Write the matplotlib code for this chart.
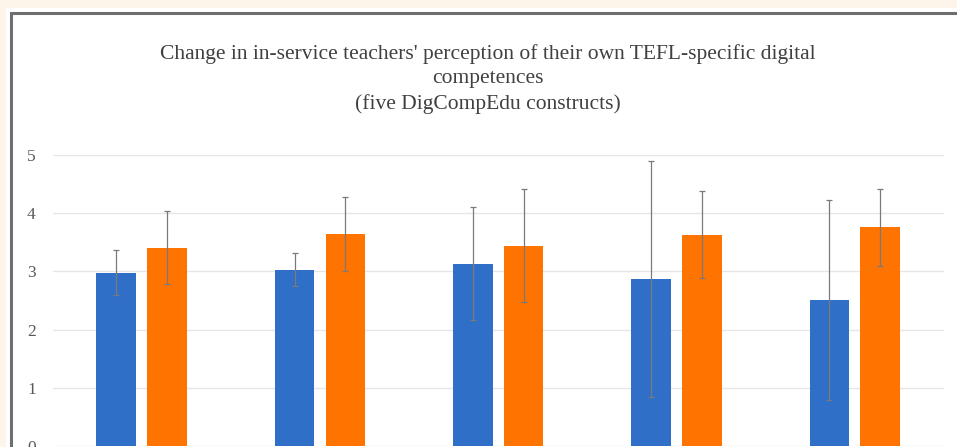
import matplotlib.pyplot as plt
from matplotlib.patches import Rectangle
import numpy as np

# five DigCompEdu constructs (axis labels are cropped out of the picture)
constructs = ["C1", "C2", "C3", "C4", "C5"]

# mean self-rating before / after, with standard deviations
pre_means = [2.98, 3.03, 3.13, 2.87, 2.51]
pre_sd = [0.39, 0.28, 0.97, 2.02, 1.72]
post_means = [3.41, 3.64, 3.44, 3.63, 3.76]
post_sd = [0.62, 0.63, 0.97, 0.75, 0.66]

W, H = 957, 447
fig = plt.figure(figsize=(W / 100, H / 100), dpi=100)
fig.patch.set_facecolor("#fdf5e9")

# chart frame (white panel with grey border, running off the right/bottom edge)
fig.patches.append(Rectangle((6 / W, -0.1), 1.2, (H + 45 - 8) / H,
                             transform=fig.transFigure, facecolor="white",
                             edgecolor="none", zorder=-2))
fig.patches.append(Rectangle((10.5 / W, -0.1), 1.2, (H + 45 - 13.5) / H,
                             transform=fig.transFigure, facecolor="white",
                             edgecolor="#6e6e6e", linewidth=2.2, zorder=-1))

ax = fig.add_axes([52.5 / W, 1 / H, (944 - 52.5) / W, 291 / H])
ax.set_facecolor("none")
ax.set_zorder(1)

x = np.arange(len(constructs))
w = 0.222
off = 0.1425
err_kw = dict(ecolor="#7a7a7a", elinewidth=0.9, capsize=2, capthick=0.9)
ax.bar(x - off, pre_means, w, color="#2f6fc7", yerr=pre_sd,
       error_kw=err_kw, zorder=2)
ax.bar(x + off, post_means, w, color="#ff7300", yerr=post_sd,
       error_kw=err_kw, zorder=2)

ax.set_xlim(-0.5, len(constructs) - 0.5)
ax.set_ylim(0, 5)
ax.set_yticks(range(0, 6))
ax.set_xticks([])
ax.yaxis.grid(True, color="#e6e6e6", linewidth=1)
ax.set_axisbelow(True)
for s in ax.spines.values():
    s.set_visible(False)
ax.tick_params(axis="y", length=0, pad=12, labelsize=12.5,
               labelcolor="#595959")
for lab in ax.get_yticklabels():
    lab.set_fontfamily("Liberation Serif")

fig.text(488 / W, 1 - 79 / H,
         "Change in in-service teachers' perception of their own TEFL-specific digital\n"
         "competences\n(five DigCompEdu constructs)",
         ha="center", va="center", fontsize=15.5, family="Liberation Serif",
         color="#404040", linespacing=1.36)

fig.savefig("out.png", dpi=100, facecolor=fig.get_facecolor())
